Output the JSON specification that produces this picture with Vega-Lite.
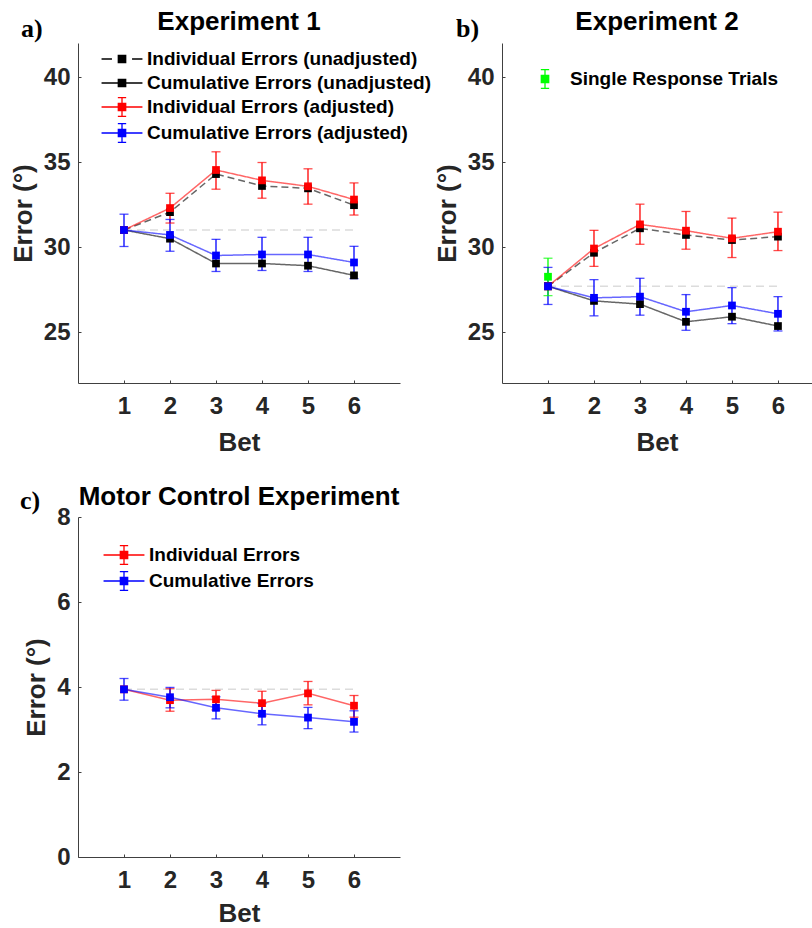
{
  "$schema": "https://vega.github.io/schema/vega-lite/v6.json",
  "background": "white",
  "padding": {"left": 10, "top": 9, "right": 0, "bottom": 0},
  "config": {
    "font": "Liberation Sans",
    "view": {"stroke": null},
    "axis": {"domainColor": "#404040", "domainWidth": 1, "tickColor": "#404040", "tickSize": -3, "tickWidth": 1, "labelColor": "#262626", "labelFont": "Liberation Sans", "labelFontSize": 24, "labelFontWeight": "bold", "titleColor": "#262626", "titleFont": "Liberation Sans", "titleFontSize": 26, "titleFontWeight": "bold", "grid": false},
    "axisX": {"labelPadding": 14, "titlePadding": 11},
    "axisY": {"labelPadding": 11, "titlePadding": 7},
    "title": {"font": "Liberation Sans", "fontSize": 26, "fontWeight": "bold", "color": "#000000", "anchor": "middle", "frame": "group", "offset": -19},
    "legend": {"orient": "none", "title": null, "padding": 0, "rowPadding": 1, "symbolSize": 600, "symbolStrokeWidth": 1.3, "symbolOpacity": 1, "labelOffset": 12, "labelLimit": 0, "labelFont": "Liberation Sans", "labelFontSize": 19, "labelFontWeight": "bold", "labelColor": "#000000"}
  },
  "datasets": {
    "points": [
      {"panel": "a", "series": "Individual Errors (unadjusted)", "bet": 1, "error": 31.0},
      {"panel": "a", "series": "Individual Errors (unadjusted)", "bet": 2, "error": 32.05},
      {"panel": "a", "series": "Individual Errors (unadjusted)", "bet": 3, "error": 34.29},
      {"panel": "a", "series": "Individual Errors (unadjusted)", "bet": 4, "error": 33.59},
      {"panel": "a", "series": "Individual Errors (unadjusted)", "bet": 5, "error": 33.45},
      {"panel": "a", "series": "Individual Errors (unadjusted)", "bet": 6, "error": 32.46},
      {"panel": "a", "series": "Cumulative Errors (unadjusted)", "bet": 1, "error": 31.0},
      {"panel": "a", "series": "Cumulative Errors (unadjusted)", "bet": 2, "error": 30.49},
      {"panel": "a", "series": "Cumulative Errors (unadjusted)", "bet": 3, "error": 29.03},
      {"panel": "a", "series": "Cumulative Errors (unadjusted)", "bet": 4, "error": 29.03},
      {"panel": "a", "series": "Cumulative Errors (unadjusted)", "bet": 5, "error": 28.9},
      {"panel": "a", "series": "Cumulative Errors (unadjusted)", "bet": 6, "error": 28.33},
      {"panel": "a", "series": "Individual Errors (adjusted)", "bet": 1, "error": 31.0},
      {"panel": "a", "series": "Individual Errors (adjusted)", "bet": 2, "error": 32.29, "lo": 31.41, "hi": 33.16},
      {"panel": "a", "series": "Individual Errors (adjusted)", "bet": 3, "error": 34.53, "lo": 33.4, "hi": 35.6},
      {"panel": "a", "series": "Individual Errors (adjusted)", "bet": 4, "error": 33.92, "lo": 32.87, "hi": 34.97},
      {"panel": "a", "series": "Individual Errors (adjusted)", "bet": 5, "error": 33.57, "lo": 32.52, "hi": 34.6},
      {"panel": "a", "series": "Individual Errors (adjusted)", "bet": 6, "error": 32.79, "lo": 31.88, "hi": 33.77},
      {"panel": "a", "series": "Cumulative Errors (adjusted)", "bet": 1, "error": 31.0, "lo": 30.03, "hi": 31.93},
      {"panel": "a", "series": "Cumulative Errors (adjusted)", "bet": 2, "error": 30.71, "lo": 29.75, "hi": 31.62},
      {"panel": "a", "series": "Cumulative Errors (adjusted)", "bet": 3, "error": 29.5, "lo": 28.56, "hi": 30.45},
      {"panel": "a", "series": "Cumulative Errors (adjusted)", "bet": 4, "error": 29.56, "lo": 28.62, "hi": 30.57},
      {"panel": "a", "series": "Cumulative Errors (adjusted)", "bet": 5, "error": 29.56, "lo": 28.56, "hi": 30.57},
      {"panel": "a", "series": "Cumulative Errors (adjusted)", "bet": 6, "error": 29.09, "lo": 28.14, "hi": 30.04},
      {"panel": "b", "series": "Individual Errors (unadjusted)", "bet": 1, "error": 27.69},
      {"panel": "b", "series": "Individual Errors (unadjusted)", "bet": 2, "error": 29.66},
      {"panel": "b", "series": "Individual Errors (unadjusted)", "bet": 3, "error": 31.1},
      {"panel": "b", "series": "Individual Errors (unadjusted)", "bet": 4, "error": 30.71},
      {"panel": "b", "series": "Individual Errors (unadjusted)", "bet": 5, "error": 30.41},
      {"panel": "b", "series": "Individual Errors (unadjusted)", "bet": 6, "error": 30.61},
      {"panel": "b", "series": "Cumulative Errors (unadjusted)", "bet": 1, "error": 27.69},
      {"panel": "b", "series": "Cumulative Errors (unadjusted)", "bet": 2, "error": 26.83},
      {"panel": "b", "series": "Cumulative Errors (unadjusted)", "bet": 3, "error": 26.64},
      {"panel": "b", "series": "Cumulative Errors (unadjusted)", "bet": 4, "error": 25.6},
      {"panel": "b", "series": "Cumulative Errors (unadjusted)", "bet": 5, "error": 25.9},
      {"panel": "b", "series": "Cumulative Errors (unadjusted)", "bet": 6, "error": 25.35},
      {"panel": "b", "series": "Individual Errors (adjusted)", "bet": 1, "error": 27.69},
      {"panel": "b", "series": "Individual Errors (adjusted)", "bet": 2, "error": 29.91, "lo": 28.86, "hi": 30.98},
      {"panel": "b", "series": "Individual Errors (adjusted)", "bet": 3, "error": 31.33, "lo": 30.16, "hi": 32.52},
      {"panel": "b", "series": "Individual Errors (adjusted)", "bet": 4, "error": 30.96, "lo": 29.87, "hi": 32.09},
      {"panel": "b", "series": "Individual Errors (adjusted)", "bet": 5, "error": 30.51, "lo": 29.38, "hi": 31.7},
      {"panel": "b", "series": "Individual Errors (adjusted)", "bet": 6, "error": 30.9, "lo": 29.79, "hi": 32.05},
      {"panel": "b", "series": "Cumulative Errors (adjusted)", "bet": 1, "error": 27.69, "lo": 26.62, "hi": 28.8},
      {"panel": "b", "series": "Cumulative Errors (adjusted)", "bet": 2, "error": 27.01, "lo": 25.95, "hi": 28.08},
      {"panel": "b", "series": "Cumulative Errors (adjusted)", "bet": 3, "error": 27.08, "lo": 25.99, "hi": 28.16},
      {"panel": "b", "series": "Cumulative Errors (adjusted)", "bet": 4, "error": 26.19, "lo": 25.1, "hi": 27.2},
      {"panel": "b", "series": "Cumulative Errors (adjusted)", "bet": 5, "error": 26.56, "lo": 25.49, "hi": 27.61},
      {"panel": "b", "series": "Cumulative Errors (adjusted)", "bet": 6, "error": 26.07, "lo": 25.06, "hi": 27.08},
      {"panel": "b", "series": "Single Response Trials", "bet": 1, "error": 28.25, "lo": 27.14, "hi": 29.34},
      {"panel": "c", "series": "Individual Errors", "bet": 1, "error": 3.945},
      {"panel": "c", "series": "Individual Errors", "bet": 2, "error": 3.69, "lo": 3.43, "hi": 3.96},
      {"panel": "c", "series": "Individual Errors", "bet": 3, "error": 3.71, "lo": 3.46, "hi": 3.92},
      {"panel": "c", "series": "Individual Errors", "bet": 4, "error": 3.62, "lo": 3.32, "hi": 3.9},
      {"panel": "c", "series": "Individual Errors", "bet": 5, "error": 3.85, "lo": 3.58, "hi": 4.13},
      {"panel": "c", "series": "Individual Errors", "bet": 6, "error": 3.56, "lo": 3.29, "hi": 3.8},
      {"panel": "c", "series": "Cumulative Errors", "bet": 1, "error": 3.945, "lo": 3.69, "hi": 4.2},
      {"panel": "c", "series": "Cumulative Errors", "bet": 2, "error": 3.76, "lo": 3.51, "hi": 3.99},
      {"panel": "c", "series": "Cumulative Errors", "bet": 3, "error": 3.51, "lo": 3.25, "hi": 3.77},
      {"panel": "c", "series": "Cumulative Errors", "bet": 4, "error": 3.37, "lo": 3.11, "hi": 3.61},
      {"panel": "c", "series": "Cumulative Errors", "bet": 5, "error": 3.28, "lo": 3.02, "hi": 3.52},
      {"panel": "c", "series": "Cumulative Errors", "bet": 6, "error": 3.18, "lo": 2.94, "hi": 3.44}
    ],
    "baseline": [
      {"panel": "a", "bet": 1, "error": 31.0},
      {"panel": "a", "bet": 6, "error": 31.0},
      {"panel": "b", "bet": 1, "error": 27.69},
      {"panel": "b", "bet": 6, "error": 27.69},
      {"panel": "c", "bet": 1, "error": 3.945},
      {"panel": "c", "bet": 6, "error": 3.945}
    ],
    "labels": [
      {"panel": "a", "label": "a)"},
      {"panel": "b", "label": "b)"},
      {"panel": "c", "label": "c)"}
    ]
  },
  "bounds": "flush",
  "columns": 2,
  "spacing": {"row": 134, "column": 102},
  "resolve": {
    "scale": {"x": "independent", "y": "independent", "color": "independent", "stroke": "independent", "shape": "independent", "strokeDash": "independent"},
    "axis": {"x": "independent", "y": "independent"},
    "legend": {"stroke": "independent", "shape": "independent", "color": "independent", "strokeDash": "independent"}
  },
  "concat": [
    {
      "width": 322,
      "height": 340,
      "title": {"text": "Experiment 1"},
      "data": {"name": "points"},
      "transform": [{"filter": "datum.panel === 'a'"}],
      "layer": [
        {
          "data": {"name": "baseline"},
          "transform": [{"filter": "datum.panel === 'a'"}],
          "mark": {"type": "line", "color": "#dcdcdc", "strokeDash": [8, 5], "strokeWidth": 1.5},
          "encoding": {
            "x": {"field": "bet", "type": "quantitative", "scale": {"domain": [0, 7], "nice": false, "zero": false}, "axis": {"values": [1, 2, 3, 4, 5, 6], "title": "Bet"}},
            "y": {"field": "error", "type": "quantitative", "scale": {"domain": [22, 42], "nice": false, "zero": false}, "axis": {"values": [25, 30, 35, 40], "title": "Error (°)"}}
          }
        },
        {
          "mark": {"type": "line", "strokeWidth": 1.5, "opacity": 0.6},
          "encoding": {
            "x": {"field": "bet", "type": "quantitative"},
            "y": {"field": "error", "type": "quantitative"},
            "color": {"field": "series", "type": "nominal", "legend": null, "scale": {"range": ["#0000ff", "#000000", "#ff0000", "#000000"]}},
            "strokeDash": {"field": "series", "type": "nominal", "legend": null, "scale": {"range": [[1, 0], [1, 0], [1, 0], [7, 4]]}}
          }
        },
        {
          "transform": [{"filter": "isValid(datum.lo)"}],
          "mark": {"type": "rule", "strokeWidth": 1.3},
          "encoding": {
            "x": {"field": "bet", "type": "quantitative"},
            "y": {"field": "lo", "type": "quantitative"},
            "y2": {"field": "hi"},
            "color": {"field": "series", "type": "nominal", "legend": null}
          }
        },
        {
          "transform": [{"filter": "isValid(datum.lo)"}],
          "mark": {"type": "tick", "orient": "horizontal", "size": 9, "thickness": 1.3},
          "encoding": {
            "x": {"field": "bet", "type": "quantitative"},
            "y": {"field": "lo", "type": "quantitative"},
            "color": {"field": "series", "type": "nominal", "legend": null}
          }
        },
        {
          "transform": [{"filter": "isValid(datum.hi)"}],
          "mark": {"type": "tick", "orient": "horizontal", "size": 9, "thickness": 1.3},
          "encoding": {
            "x": {"field": "bet", "type": "quantitative"},
            "y": {"field": "hi", "type": "quantitative"},
            "color": {"field": "series", "type": "nominal", "legend": null}
          }
        },
        {
          "mark": {"type": "square", "size": 60, "opacity": 1},
          "encoding": {
            "x": {"field": "bet", "type": "quantitative"},
            "y": {"field": "error", "type": "quantitative"},
            "color": {"field": "series", "type": "nominal", "legend": null}
          }
        },
        {
          "transform": [{"filter": "datum.bet === 1"}],
          "mark": {"type": "point", "filled": false, "opacity": 0, "size": 1},
          "encoding": {
            "x": {"field": "bet", "type": "quantitative"},
            "y": {"field": "error", "type": "quantitative"},
            "stroke": {"field": "series", "type": "nominal", "legend": {"orient": "none", "legendX": 31, "legendY": 3}, "scale": {"domain": ["Individual Errors (unadjusted)", "Cumulative Errors (unadjusted)", "Individual Errors (adjusted)", "Cumulative Errors (adjusted)"], "range": ["#000000", "#000000", "#ff0000", "#0000ff"]}},
            "shape": {"field": "series", "type": "nominal", "legend": {"orient": "none", "legendX": 31, "legendY": 3}, "scale": {"domain": ["Individual Errors (unadjusted)", "Cumulative Errors (unadjusted)", "Individual Errors (adjusted)", "Cumulative Errors (adjusted)"], "range": [
              "M-1.67,0H-0.82M0.82,0H1.67M-0.302,-0.302H0.302V0.302H-0.302ZM-0.237,-0.237H0.237V0.237H-0.237ZM-0.171,-0.171H0.171V0.171H-0.171ZM-0.106,-0.106H0.106V0.106H-0.106ZM-0.041,-0.041H0.041V0.041H-0.041Z",
              "M-1.67,0H1.67M-0.302,-0.302H0.302V0.302H-0.302ZM-0.237,-0.237H0.237V0.237H-0.237ZM-0.171,-0.171H0.171V0.171H-0.171ZM-0.106,-0.106H0.106V0.106H-0.106ZM-0.041,-0.041H0.041V0.041H-0.041Z",
              "M-1.67,0H1.67M0,-0.76V0.76M-0.34,-0.76H0.34M-0.34,0.76H0.34M-0.302,-0.302H0.302V0.302H-0.302ZM-0.237,-0.237H0.237V0.237H-0.237ZM-0.171,-0.171H0.171V0.171H-0.171ZM-0.106,-0.106H0.106V0.106H-0.106ZM-0.041,-0.041H0.041V0.041H-0.041Z",
              "M-1.67,0H1.67M0,-0.76V0.76M-0.34,-0.76H0.34M-0.34,0.76H0.34M-0.3,-0.3H0.3V0.3H-0.3ZM-0.237,-0.237H0.237V0.237H-0.237ZM-0.171,-0.171H0.171V0.171H-0.171ZM-0.106,-0.106H0.106V0.106H-0.106ZM-0.041,-0.041H0.041V0.041H-0.041Z"
            ]}}
          }
        },
        {
          "data": {"name": "labels"},
          "transform": [{"filter": "datum.panel === 'a'"}],
          "mark": {"type": "text", "font": "Liberation Serif", "fontSize": 26, "fontWeight": "bold", "align": "left", "baseline": "alphabetic", "color": "#000000"},
          "encoding": {
            "x": {"datum": -1.24, "type": "quantitative"},
            "y": {"datum": 42.35, "type": "quantitative"},
            "text": {"field": "label"}
          }
        }
      ]
    },
    {
      "width": 310,
      "height": 340,
      "title": {"text": "Experiment 2"},
      "data": {"name": "points"},
      "transform": [{"filter": "datum.panel === 'b'"}],
      "layer": [
        {
          "data": {"name": "baseline"},
          "transform": [{"filter": "datum.panel === 'b'"}],
          "mark": {"type": "line", "color": "#dcdcdc", "strokeDash": [8, 5], "strokeWidth": 1.5},
          "encoding": {
            "x": {"field": "bet", "type": "quantitative", "scale": {"domain": [0, 6.74], "nice": false, "zero": false}, "axis": {"values": [1, 2, 3, 4, 5, 6], "title": "Bet"}},
            "y": {"field": "error", "type": "quantitative", "scale": {"domain": [22, 42], "nice": false, "zero": false}, "axis": {"values": [25, 30, 35, 40], "title": "Error (°)"}}
          }
        },
        {
          "transform": [{"filter": "datum.series !== 'Single Response Trials'"}],
          "mark": {"type": "line", "strokeWidth": 1.5, "opacity": 0.6},
          "encoding": {
            "x": {"field": "bet", "type": "quantitative"},
            "y": {"field": "error", "type": "quantitative"},
            "color": {"field": "series", "type": "nominal", "legend": null, "scale": {"range": ["#0000ff", "#000000", "#ff0000", "#000000", "#00ff00"]}},
            "strokeDash": {"field": "series", "type": "nominal", "legend": null, "scale": {"range": [[1, 0], [1, 0], [1, 0], [7, 4], [1, 0]]}}
          }
        },
        {
          "transform": [{"filter": "isValid(datum.lo)"}],
          "mark": {"type": "rule", "strokeWidth": 1.3},
          "encoding": {
            "x": {"field": "bet", "type": "quantitative"},
            "y": {"field": "lo", "type": "quantitative"},
            "y2": {"field": "hi"},
            "color": {"field": "series", "type": "nominal", "legend": null}
          }
        },
        {
          "transform": [{"filter": "isValid(datum.lo)"}],
          "mark": {"type": "tick", "orient": "horizontal", "size": 9, "thickness": 1.3},
          "encoding": {
            "x": {"field": "bet", "type": "quantitative"},
            "y": {"field": "lo", "type": "quantitative"},
            "color": {"field": "series", "type": "nominal", "legend": null}
          }
        },
        {
          "transform": [{"filter": "isValid(datum.hi)"}],
          "mark": {"type": "tick", "orient": "horizontal", "size": 9, "thickness": 1.3},
          "encoding": {
            "x": {"field": "bet", "type": "quantitative"},
            "y": {"field": "hi", "type": "quantitative"},
            "color": {"field": "series", "type": "nominal", "legend": null}
          }
        },
        {
          "mark": {"type": "square", "size": 60, "opacity": 1},
          "encoding": {
            "x": {"field": "bet", "type": "quantitative"},
            "y": {"field": "error", "type": "quantitative"},
            "color": {"field": "series", "type": "nominal", "legend": null}
          }
        },
        {
          "transform": [{"filter": "datum.series === 'Single Response Trials'"}],
          "mark": {"type": "point", "filled": false, "opacity": 0, "size": 1},
          "encoding": {
            "x": {"field": "bet", "type": "quantitative"},
            "y": {"field": "error", "type": "quantitative"},
            "stroke": {"field": "series", "type": "nominal", "legend": {"orient": "none", "legendX": 30, "legendY": 23}, "scale": {"domain": ["Single Response Trials"], "range": ["#00ff00"]}},
            "shape": {"field": "series", "type": "nominal", "legend": {"orient": "none", "legendX": 30, "legendY": 23}, "scale": {"domain": ["Single Response Trials"], "range": [
              "M0,-0.76V0.76M-0.34,-0.76H0.34M-0.34,0.76H0.34M-0.302,-0.302H0.302V0.302H-0.302ZM-0.237,-0.237H0.237V0.237H-0.237ZM-0.171,-0.171H0.171V0.171H-0.171ZM-0.106,-0.106H0.106V0.106H-0.106ZM-0.041,-0.041H0.041V0.041H-0.041Z"
            ]}}
          }
        },
        {
          "data": {"name": "labels"},
          "transform": [{"filter": "datum.panel === 'b'"}],
          "mark": {"type": "text", "font": "Liberation Serif", "fontSize": 26, "fontWeight": "bold", "align": "left", "baseline": "alphabetic", "color": "#000000"},
          "encoding": {
            "x": {"datum": -1.0, "type": "quantitative"},
            "y": {"datum": 42.35, "type": "quantitative"},
            "text": {"field": "label"}
          }
        }
      ]
    },
    {
      "width": 322,
      "height": 340,
      "title": {"text": "Motor Control Experiment", "offset": -22},
      "data": {"name": "points"},
      "transform": [{"filter": "datum.panel === 'c'"}],
      "layer": [
        {
          "data": {"name": "baseline"},
          "transform": [{"filter": "datum.panel === 'c'"}],
          "mark": {"type": "line", "color": "#dcdcdc", "strokeDash": [8, 5], "strokeWidth": 1.5},
          "encoding": {
            "x": {"field": "bet", "type": "quantitative", "scale": {"domain": [0, 7], "nice": false, "zero": false}, "axis": {"values": [1, 2, 3, 4, 5, 6], "title": "Bet", "titlePadding": 8}},
            "y": {"field": "error", "type": "quantitative", "scale": {"domain": [0, 8], "nice": false, "zero": false}, "axis": {"values": [0, 2, 4, 6, 8], "title": "Error (°)"}}
          }
        },
        {
          "mark": {"type": "line", "strokeWidth": 1.5, "opacity": 0.6},
          "encoding": {
            "x": {"field": "bet", "type": "quantitative"},
            "y": {"field": "error", "type": "quantitative"},
            "color": {"field": "series", "type": "nominal", "legend": null, "scale": {"range": ["#0000ff", "#ff0000"]}}
          }
        },
        {
          "transform": [{"filter": "isValid(datum.lo)"}],
          "mark": {"type": "rule", "strokeWidth": 1.3},
          "encoding": {
            "x": {"field": "bet", "type": "quantitative"},
            "y": {"field": "lo", "type": "quantitative"},
            "y2": {"field": "hi"},
            "color": {"field": "series", "type": "nominal", "legend": null}
          }
        },
        {
          "transform": [{"filter": "isValid(datum.lo)"}],
          "mark": {"type": "tick", "orient": "horizontal", "size": 9, "thickness": 1.3},
          "encoding": {
            "x": {"field": "bet", "type": "quantitative"},
            "y": {"field": "lo", "type": "quantitative"},
            "color": {"field": "series", "type": "nominal", "legend": null}
          }
        },
        {
          "transform": [{"filter": "isValid(datum.hi)"}],
          "mark": {"type": "tick", "orient": "horizontal", "size": 9, "thickness": 1.3},
          "encoding": {
            "x": {"field": "bet", "type": "quantitative"},
            "y": {"field": "hi", "type": "quantitative"},
            "color": {"field": "series", "type": "nominal", "legend": null}
          }
        },
        {
          "mark": {"type": "square", "size": 60, "opacity": 1},
          "encoding": {
            "x": {"field": "bet", "type": "quantitative"},
            "y": {"field": "error", "type": "quantitative"},
            "color": {"field": "series", "type": "nominal", "legend": null}
          }
        },
        {
          "transform": [{"filter": "datum.bet === 1"}],
          "mark": {"type": "point", "filled": false, "opacity": 0, "size": 1},
          "encoding": {
            "x": {"field": "bet", "type": "quantitative"},
            "y": {"field": "error", "type": "quantitative"},
            "stroke": {"field": "series", "type": "nominal", "legend": {"orient": "none", "legendX": 33, "legendY": 25}, "scale": {"domain": ["Individual Errors", "Cumulative Errors"], "range": ["#ff0000", "#0000ff"]}},
            "shape": {"field": "series", "type": "nominal", "legend": {"orient": "none", "legendX": 33, "legendY": 25}, "scale": {"domain": ["Individual Errors", "Cumulative Errors"], "range": [
              "M-1.67,0H1.67M0,-0.76V0.76M-0.34,-0.76H0.34M-0.34,0.76H0.34M-0.302,-0.302H0.302V0.302H-0.302ZM-0.237,-0.237H0.237V0.237H-0.237ZM-0.171,-0.171H0.171V0.171H-0.171ZM-0.106,-0.106H0.106V0.106H-0.106ZM-0.041,-0.041H0.041V0.041H-0.041Z",
              "M-1.67,0H1.67M0,-0.76V0.76M-0.34,-0.76H0.34M-0.34,0.76H0.34M-0.3,-0.3H0.3V0.3H-0.3ZM-0.237,-0.237H0.237V0.237H-0.237ZM-0.171,-0.171H0.171V0.171H-0.171ZM-0.106,-0.106H0.106V0.106H-0.106ZM-0.041,-0.041H0.041V0.041H-0.041Z"
            ]}}
          }
        },
        {
          "data": {"name": "labels"},
          "transform": [{"filter": "datum.panel === 'c'"}],
          "mark": {"type": "text", "font": "Liberation Serif", "fontSize": 26, "fontWeight": "bold", "align": "left", "baseline": "alphabetic", "color": "#000000"},
          "encoding": {
            "x": {"datum": -1.26, "type": "quantitative"},
            "y": {"datum": 8.18, "type": "quantitative"},
            "text": {"field": "label"}
          }
        }
      ]
    }
  ]
}
